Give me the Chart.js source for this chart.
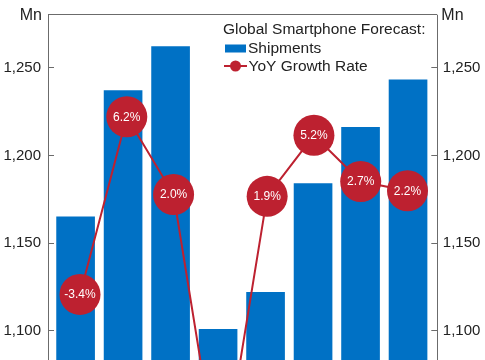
<!DOCTYPE html>
<html>
<head>
<meta charset="utf-8">
<script src="https://cdn.jsdelivr.net/npm/chart.js@4"></script>
<style>
  html, body { margin: 0; padding: 0; background: #fff; overflow: hidden; }
  #wrap { width: 485px; height: 530px; }
</style>
</head>
<body>
<div id="wrap"><canvas id="forecastChart"></canvas></div>
<script>
// Datos
const years = ["2023", "2024", "2025", "2026", "2027", "2028", "2029", "2030"];
const shipments = [1165, 1237, 1262, 1101, 1122, 1184, 1216, 1243];   // Mn
const yoyGrowth = [-3.4, 6.2, 2.0, -13.6, 1.9, 5.2, 2.7, 2.2];        // %
const leftTicks = [1100, 1150, 1200, 1250];

const BLUE = '#0071C5';
const RED = '#BD2130';
const AXIS = '#6b6b6b';
const FONT = "'Liberation Sans', Arial, sans-serif";

// Etiquetas dentro de los circulos, leyenda y marco superior
const overlay = {
    id: 'overlay',
    afterDatasetsDraw(chart) {
        const ctx = chart.ctx;
        const meta = chart.getDatasetMeta(1);
        ctx.save();
        ctx.fillStyle = '#ffffff';
        ctx.font = '12px ' + FONT;
        ctx.textAlign = 'center';
        ctx.textBaseline = 'middle';
        meta.data.forEach((pt, i) => {
            ctx.fillText(yoyGrowth[i].toFixed(1) + '%', pt.x, pt.y + 0.5);
        });
        ctx.restore();
    },
    afterDraw(chart) {
        const ctx = chart.ctx;
        const area = chart.chartArea;
        ctx.save();
        // linea superior del marco
        ctx.strokeStyle = AXIS;
        ctx.lineWidth = 1;
        ctx.beginPath();
        ctx.moveTo(area.left, Math.round(area.top) - 0.5);
        ctx.lineTo(area.right, Math.round(area.top) - 0.5);
        ctx.stroke();

        // unidades
        ctx.fillStyle = '#222';
        ctx.font = '16px ' + FONT;
        ctx.textBaseline = 'middle';
        ctx.textAlign = 'right';
        ctx.fillText('Mn', area.left - 6, 16);
        ctx.textAlign = 'left';
        ctx.fillText('Mn', area.right + 4, 16);

        // leyenda
        ctx.font = '15.5px ' + FONT;
        ctx.textBaseline = 'alphabetic';
        ctx.fillText('Global Smartphone Forecast:', 223, 33.5);
        ctx.fillStyle = BLUE;
        ctx.fillRect(225, 44.5, 21, 8);
        ctx.fillStyle = '#222';
        ctx.fillText(chart.data.datasets[0].label, 248, 52.5);
        ctx.strokeStyle = RED;
        ctx.lineWidth = 2;
        ctx.beginPath();
        ctx.moveTo(224, 66);
        ctx.lineTo(247, 66);
        ctx.stroke();
        ctx.fillStyle = RED;
        ctx.beginPath();
        ctx.arc(235.5, 66, 5.5, 0, Math.PI * 2);
        ctx.fill();
        ctx.fillStyle = '#222';
        ctx.fillText(chart.data.datasets[1].label, 248.5, 71);
        ctx.restore();
    }
};

const yAxis = (position, padding) => ({
    type: 'linear',
    position: position,
    min: 1000,
    max: 1280,
    afterFit: s => { s.width = position === 'left' ? 48 : 47.7; },
    afterBuildTicks: s => { s.ticks = leftTicks.map(v => ({ value: v })); },
    grid: { drawOnChartArea: false, drawTicks: true, tickLength: -6, color: AXIS },
    border: { display: true, color: AXIS, width: 1 },
    ticks: {
        padding: padding,
        color: '#222',
        font: { family: FONT, size: 15, lineHeight: '2px' },
        callback: v => v.toLocaleString('en-US')
    }
});

const config = {
    type: 'bar',
    data: {
        labels: years,
        datasets: [
            {
                label: 'Shipments',
                data: shipments.map((v, i) => ({ x: i, y: v })),
                backgroundColor: BLUE,
                grouped: false,
                barPercentage: 1,
                categoryPercentage: 1,
                maxBarThickness: 38,
                xAxisID: 'xb',
                yAxisID: 'y',
                order: 1
            },
            {
                type: 'line',
                label: 'YoY Growth Rate',
                data: yoyGrowth.map((v, i) => ({ x: i, y: v })),
                borderColor: RED,
                borderWidth: 2,
                backgroundColor: RED,
                pointBackgroundColor: RED,
                pointBorderWidth: 0,
                pointRadius: 20.5,
                tension: 0,
                xAxisID: 'xl',
                yAxisID: 'y2',
                order: 0
            }
        ]
    },
    options: {
        responsive: true,
        maintainAspectRatio: false,
        animation: false,
        layout: { autoPadding: false, padding: { top: 15, bottom: 23.5, left: 0, right: 0 } },
        scales: {
            xb: { type: 'linear', display: false, offset: false, min: -0.581, max: 7.616,
                  ticks: { stepSize: 1, includeBounds: false } },
            xl: { type: 'linear', display: false, offset: false, min: -0.684, max: 7.637,
                  ticks: { stepSize: 1, includeBounds: false } },
            y: yAxis('left', 13),
            y1: yAxis('right', 11.5),
            y2: { type: 'linear', display: false, min: -14.86, max: 11.70 }
        },
        plugins: {
            legend: { display: false },
            tooltip: { enabled: false }
        }
    },
    plugins: [overlay]
};

const ctx = document.getElementById('forecastChart').getContext('2d');
const myChart = new Chart(ctx, config);
</script>
</body>
</html>
